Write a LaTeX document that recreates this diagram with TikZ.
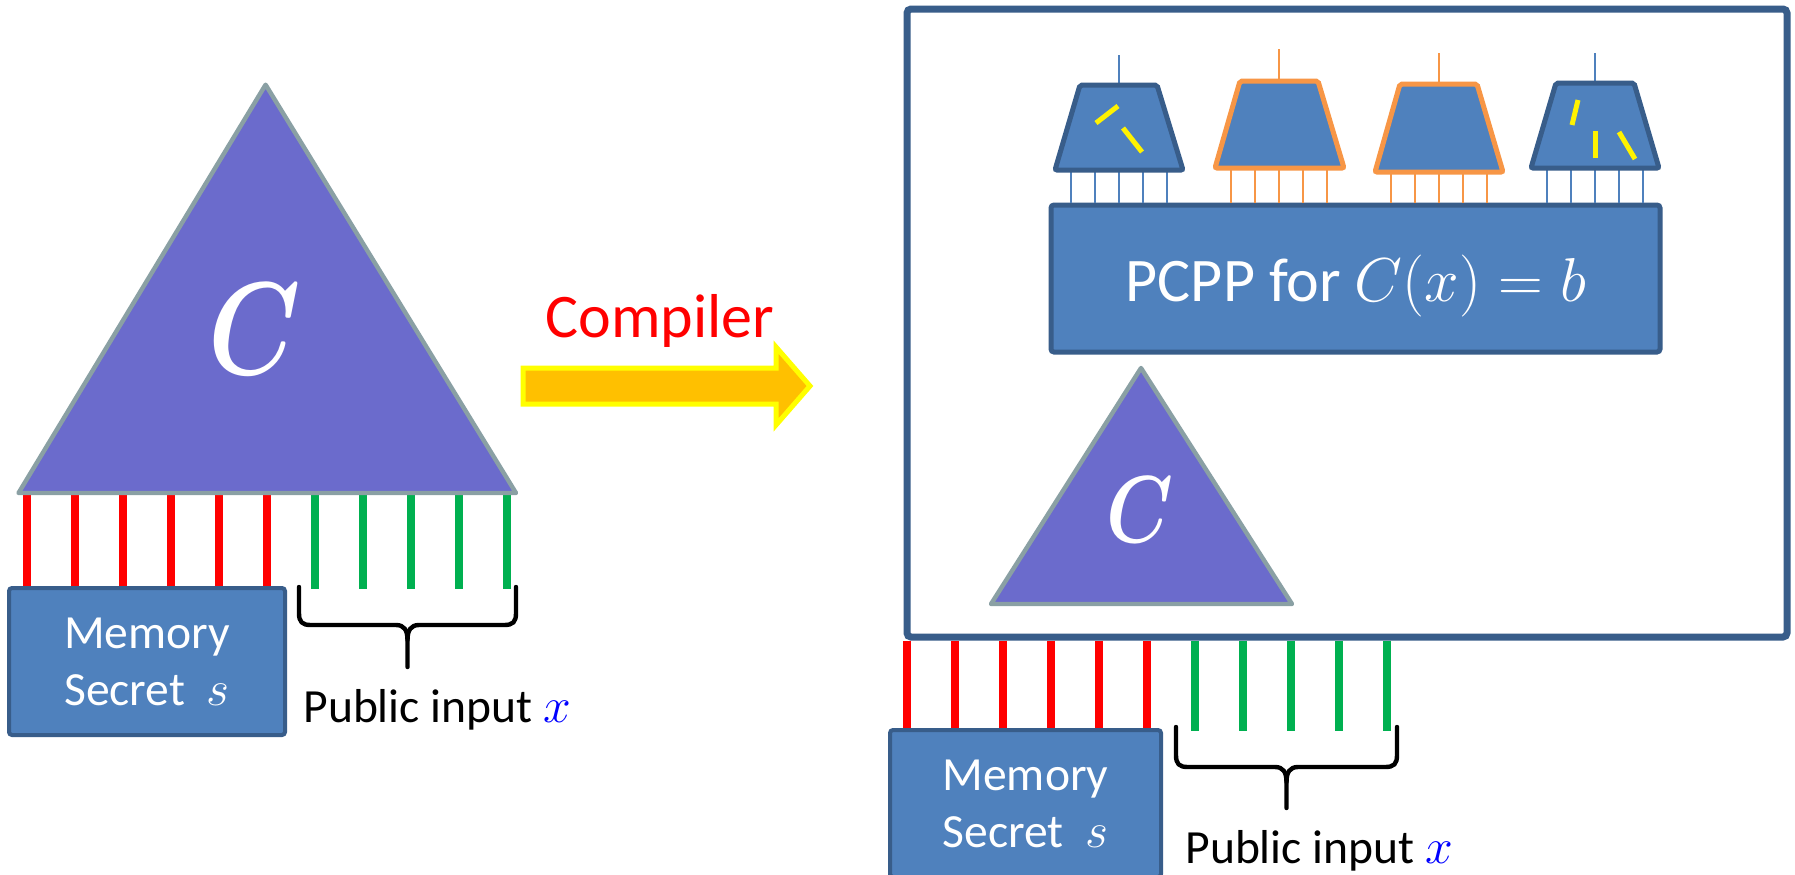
\documentclass[tikz,border=0pt]{standalone}
\usepackage{fontspec}
\setmainfont{Carlito}

\definecolor{boxfill}{RGB}{79,129,189}
\definecolor{boxline}{RGB}{56,93,138}
\definecolor{trifill}{RGB}{107,107,204}
\definecolor{triline}{RGB}{138,160,164}
\definecolor{gateorange}{RGB}{247,150,70}
\definecolor{wirered}{RGB}{255,0,0}
\definecolor{wiregreen}{RGB}{0,176,80}
\definecolor{arrowfill}{RGB}{255,192,0}
\definecolor{arrowline}{RGB}{255,255,0}
\definecolor{xblue}{RGB}{0,0,255}

\begin{document}
\begin{tikzpicture}[x=0.5pt,y=-0.5pt,
  panel/.style={draw=boxline, fill=boxfill, line width=2pt, rounded corners=1.5pt, inner sep=0pt},
  ckt/.style={draw=triline, fill=trifill, line width=2.2pt, line join=round},
  redwire/.style={draw=wirered, line width=4pt},
  greenwire/.style={draw=wiregreen, line width=4pt},
  bluegate/.style={draw=boxline, fill=boxfill, line width=2.5pt, rounded corners=1pt},
  orangegate/.style={draw=gateorange, fill=boxfill, line width=2.5pt, rounded corners=1pt},
  bluepin/.style={draw=boxfill, line width=1pt},
  orangepin/.style={draw=gateorange, line width=1pt},
  flaw/.style={draw=yellow, line width=2.5pt},
  bracket/.style={draw=black, line width=2.2pt, line cap=round, line join=round},
  txt/.style={font=\fontsize{23.8}{28.5}\selectfont, inner sep=0pt},
  bigC/.style={text=white, inner sep=0pt, font=\fontsize{24.88}{24.88}\selectfont\boldmath},
]
\fill[white] (0,0) rectangle (1795,874);
\useasboundingbox (0,0) rectangle (1795,874);

% ---------- left: circuit with memory and public input ----------
\coordinate (lapex) at (265.6,84.7);
\coordinate (lbl) at (18.5,493);
\coordinate (lbr) at (516,493);
\coordinate (lpub) at (0,589);
\node[panel, minimum width=138pt, minimum height=73.5pt, align=center,
      text=white, txt] (lmem) at (147,661.5) {Memory\\Secret\hspace{0.45em}$s$};

\foreach \x in {27,75,123,171,219,267}
  \draw[redwire] (\x,0 |- lbl) -- (\x,0 |- lmem.north);
\foreach \x in {315,363,411,459,507}
  \draw[greenwire] (\x,0 |- lbl) -- (\x,0 |- lpub);

\draw[ckt] (lapex) -- (lbr) -- (lbl) -- cycle;
\node[bigC, xscale=2.1, yscale=2.65] (lC) at (255,329) {$C$};

\draw[bracket] (299,587) -- (299,613) .. controls (299,622) and (302,625) .. (311,625)
  -- (396,625) .. controls (404,625) and (407.5,630) .. (407.5,640) -- (407.5,667);
\draw[bracket] (516,587) -- (516,613) .. controls (516,622) and (513,625) .. (504,625)
  -- (419,625) .. controls (411,625) and (407.5,630) .. (407.5,640);
\node[txt, anchor=base west] (lpubtext) at (303,722) {Public input \textcolor{xblue}{$x$}};

% ---------- compiler arrow ----------
\node[text=wirered, font=\fontsize{31}{31}\selectfont, anchor=base, inner sep=0pt]
  (comp) at (660,337) {Compiler};
\draw[draw=arrowline, fill=arrowfill, line width=2.5pt]
  (523,368) -- (776,368) -- (776,347) -- (810,386) -- (776,425) -- (776,404) -- (523,404) -- cycle;

% ---------- right: compiled circuit ----------
\node[draw=boxline, line width=3.5pt, minimum width=440pt, minimum height=314pt,
      inner sep=0pt, rounded corners=2pt] (frame) at (1347,323) {};

\node[panel, line width=2.5pt, minimum width=304.5pt, minimum height=73.5pt] (pcpp) at (1355.5,278.5) {};
\node[text=white, font=\fontsize{24.88}{24.88}\selectfont, scale=1.246, anchor=base, inner sep=0pt]
  (pcpplabel) at (1356,301) {PCPP for $C(x)=b$};

% verifier gates reading the proof
\coordinate (g1tl) at (1080,85);  \coordinate (g1tr) at (1157,85);
\coordinate (g1br) at (1183,170); \coordinate (g1bl) at (1055,170);
\coordinate (g1out) at (1119,55);
\coordinate (g2tl) at (1240,81);  \coordinate (g2tr) at (1318,81);
\coordinate (g2br) at (1344,168); \coordinate (g2bl) at (1215,168);
\coordinate (g2out) at (1279,49);
\coordinate (g3tl) at (1400,84);  \coordinate (g3tr) at (1477,84);
\coordinate (g3br) at (1503,172); \coordinate (g3bl) at (1375,172);
\coordinate (g3out) at (1439,53);
\coordinate (g4tl) at (1556,83);  \coordinate (g4tr) at (1634,83);
\coordinate (g4br) at (1659,168); \coordinate (g4bl) at (1531,168);
\coordinate (g4out) at (1595,53);

\foreach \x in {1071,1095,1119,1143,1167}
  \draw[bluepin] (\x,0 |- g1bl) -- (\x,0 |- pcpp.north);
\foreach \x in {1231,1255,1279,1303,1327}
  \draw[orangepin] (\x,0 |- g2bl) -- (\x,0 |- pcpp.north);
\foreach \x in {1391,1415,1439,1463,1487}
  \draw[orangepin] (\x,0 |- g3bl) -- (\x,0 |- pcpp.north);
\foreach \x in {1547,1571,1595,1619,1643}
  \draw[bluepin] (\x,0 |- g4bl) -- (\x,0 |- pcpp.north);

\draw[bluepin] (g1out) -- (g1out |- g1tl);
\draw[orangepin] (g2out) -- (g2out |- g2tl);
\draw[orangepin] (g3out) -- (g3out |- g3tl);
\draw[bluepin] (g4out) -- (g4out |- g4tl);

\draw[bluegate] (g1tl) -- (g1tr) -- (g1br) -- (g1bl) -- cycle;
\draw[orangegate] (g2tl) -- (g2tr) -- (g2br) -- (g2bl) -- cycle;
\draw[orangegate] (g3tl) -- (g3tr) -- (g3br) -- (g3bl) -- cycle;
\draw[bluegate] (g4tl) -- (g4tr) -- (g4br) -- (g4bl) -- cycle;

% faulty wiring inside the blue gates
\draw[flaw] (1096,123) -- (1118,106);
\draw[flaw] (1123,128) -- (1142,152);
\draw[flaw] (1578,100) -- (1572,125);
\draw[flaw] (1595,131) -- (1595,158);
\draw[flaw] (1619,132) -- (1635,159);

% the original circuit inside the compiled one
\coordinate (rapex) at (1141,368);
\coordinate (rbl) at (991,604);
\coordinate (rbr) at (1292,604);
\draw[ckt] (rapex) -- (rbr) -- (rbl) -- cycle;
\node[bigC, xscale=1.52, yscale=1.91] (rC) at (1140,510) {$C$};

% memory and public input of the compiled circuit
\coordinate (rpub) at (0,731);
\node[panel, minimum width=135.5pt, minimum height=73.5pt, align=center,
      text=white, txt] (rmem) at (1025.5,803.5) {Memory\\Secret\hspace{0.45em}$s$};

\foreach \x in {907,955,1003,1051,1099,1147}
  \draw[redwire] (\x,0 |- frame.south) -- (\x,0 |- rmem.north);
\foreach \x in {1195,1243,1291,1339,1387}
  \draw[greenwire] (\x,0 |- frame.south) -- (\x,0 |- rpub);

\draw[bracket] (1176,727) -- (1176,755) .. controls (1176,764) and (1179,767) .. (1188,767)
  -- (1275,767) .. controls (1283,767) and (1286.5,772) .. (1286.5,782) -- (1286.5,808);
\draw[bracket] (1397,727) -- (1397,755) .. controls (1397,764) and (1394,767) .. (1385,767)
  -- (1298,767) .. controls (1290,767) and (1286.5,772) .. (1286.5,782);
\node[txt, anchor=base west] (rpubtext) at (1185,863) {Public input \textcolor{xblue}{$x$}};
\end{tikzpicture}
\end{document}
